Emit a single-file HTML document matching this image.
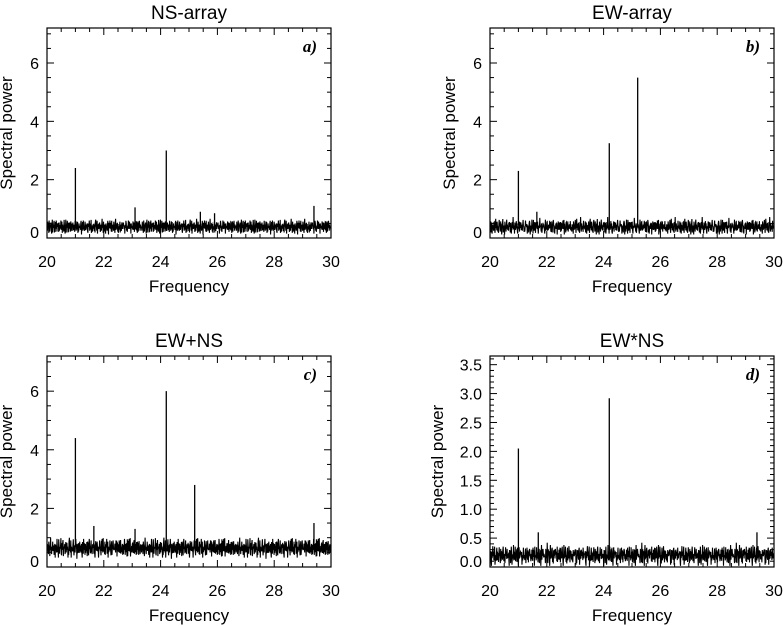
<!DOCTYPE html>
<html><head><meta charset="utf-8"><style>
html,body{margin:0;padding:0;background:#fff;}
svg{display:block;font-family:"Liberation Sans",Arial,sans-serif;}
</style></head><body>
<svg id="fig" width="783" height="626" viewBox="0 0 783 626" xmlns="http://www.w3.org/2000/svg"></svg>
<script>
// Data
const noiseShape = [5,3,7,4,6,2,8,5,3,6,4,7,5,2,6,8,3,5,4,6,7,3,5,2,6,4,8,5,3,7,4,5,6,2,7,3,5,6,4,8,3,5,7,2,6,4,5,3,7,6,4,2,5,8,3,6,4,7,5,3,6,2,5,7,4,6,3,8,5,4,2,6,5,7,3,4,6,5,2,7,4,6,3,5,8,4,6,2,5,3,7,4,6,5,3,6,7,2,5,4,6,3,8,5,4,6,2,7,5,3,4,6,5,7,3,2,6,4,5,8,3,6,4,5,7,2,4,6,3,5,7,4,6,2,5,3,6,8,4,5,3,7,2,6,5,4,3,6,7,5,2,4,6,3,5,8,4,6,2,7,5,3,4,6,5,2,7,4,6,3,5,7,4,2,6,5,3,8,4,6,5,3,7,2,5,4,6,3,7,5,4,2,6,8,3,5,4,6,7,3,5,2,6,4,5,7,3,6,4,2,5,8,3,6,4,7,5,3,6,2,5,4,7,6,3,5,2,6,4,8,5,3,7,4,5,6,2,7,3,5,6,4,8,3,5,7,2,6,4,5,3,7,6,4,2,5,8,3,6,4,7,5,3,6,4,5];
const titles = ["NS-array","EW-array","EW+NS","EW*NS"];
const tags = ["a)","b)","c)","d)"];
const baselines = [0.42,0.42,0.68,0.22];
const noiseAmps = [0.6,0.6,0.8,0.4];
const peaksA_f = [21.0,23.1,24.2,25.4,25.9,29.4];
const peaksA_v = [2.4,1.05,3.0,0.9,0.85,1.1];
const peaksB_f = [21.0,21.65,24.2,25.2];
const peaksB_v = [2.3,0.9,3.25,5.5];
const peaksC_f = [21.0,21.65,23.1,24.2,25.2,29.4];
const peaksC_v = [4.4,1.4,1.3,6.0,2.8,1.5];
const peaksD_f = [21.0,21.7,24.2,29.4];
const peaksD_v = [2.05,0.6,2.92,0.6];
const xTicks = [20,22,24,26,28,30];
const yTicksABC = [0,2,4,6];
const yTicksD = [0.0,0.5,1.0,1.5,2.0,2.5,3.0,3.5];

const NS="http://www.w3.org/2000/svg";
const svg=document.getElementById('fig');
function mk(tag,attrs,parent){const e=document.createElementNS(NS,tag);for(const k in attrs)e.setAttribute(k,attrs[k]);(parent||svg).appendChild(e);return e;}

const panels=[
 {x0:47,x1:331,y0:28,y1:238,ymin:0,ymax:7.2,yt:yTicksABC,minor:0.5,pf:peaksA_f,pv:peaksA_v,dec:0},
 {x0:490,x1:774,y0:28,y1:238,ymin:0,ymax:7.2,yt:yTicksABC,minor:0.5,pf:peaksB_f,pv:peaksB_v,dec:0},
 {x0:47,x1:331,y0:356,y1:567,ymin:0,ymax:7.2,yt:yTicksABC,minor:0.5,pf:peaksC_f,pv:peaksC_v,dec:0},
 {x0:490,x1:774,y0:356,y1:567,ymin:0,ymax:3.65,yt:yTicksD,minor:0.1,pf:peaksD_f,pv:peaksD_v,dec:1}
];
panels.forEach((p,i)=>{
 const g=mk('g',{});
 
 
 const X=f=>p.x0+(f-20)/10*(p.x1-p.x0);
 const Y=v=>p.y1-(v-p.ymin)/(p.ymax-p.ymin)*(p.y1-p.y0);
 let d='';
 const n=noiseShape.length;
 const sh=(i*37)%n;
 const N=800;
 for(let k=0;k<N;k++){
   const f=20+10*k/(N-1);
   const s=0.7*noiseShape[(k+sh)%n]+0.3*noiseShape[(k*7+3+sh)%n];
   let v=p.ymin+baselines[i]+(s-5)/3*noiseAmps[i]*0.5;
   if(v<p.ymin+0.02)v=p.ymin+0.02;
   d+=(k?'L':'M')+X(f).toFixed(1)+' '+Y(v).toFixed(1);
 }
 const line=mk('path',{d:d,fill:'none',stroke:'#000','stroke-width':1.1},g);
 
 
 p.pf.forEach((f,j)=>{
   const l=mk('line',{x1:X(f),x2:X(f),y1:Y(baselines[i]),y2:Y(p.pv[j]),stroke:'#000','stroke-width':1.3},g);
   
   
 });
 const box=mk('rect',{x:p.x0,y:p.y0,width:p.x1-p.x0,height:p.y1-p.y0,fill:'none',stroke:'#000','stroke-width':1.2},g);
 
 
 for(let f=20;f<=30.001;f+=0.5){
   const maj=Math.abs(f/2-Math.round(f/2))<1e-6;const L=maj?7:4;
   mk('line',{x1:X(f),x2:X(f),y1:p.y1,y2:p.y1-L,stroke:'#000'},g);
   mk('line',{x1:X(f),x2:X(f),y1:p.y0,y2:p.y0+L,stroke:'#000'},g);
 }
 xTicks.forEach(t=>{
   const tx=mk('text',{x:X(t),y:p.y1+29,'text-anchor':'middle','font-size':16},g);tx.textContent=t;
   
   
 });
 const majStep=p.dec?0.5:2;
 for(let v=p.ymin;v<=p.ymax+1e-6;v+=p.minor){
   const vv=Math.round(v*100)/100;
   const maj=Math.abs(vv/majStep-Math.round(vv/majStep))<1e-6;const L=maj?7:4;
   mk('line',{x1:p.x0,x2:p.x0+L,y1:Y(vv),y2:Y(vv),stroke:'#000'},g);
   mk('line',{x1:p.x1,x2:p.x1-L,y1:Y(vv),y2:Y(vv),stroke:'#000'},g);
 }
 p.yt.forEach(t=>{
   let yy=Y(t)+6;
   if(yy>p.y1)yy=p.y1; if(yy-12<p.y0)yy=p.y0+12;
   const tx=mk('text',{x:p.x0-8,y:yy,'text-anchor':'end','font-size':16},g);tx.textContent=t.toFixed(p.dec);
   
   
 });
 const cx=(p.x0+p.x1)/2;
 const tt=mk('text',{x:cx,y:p.y0-9,'text-anchor':'middle','font-size':19},g);tt.textContent=titles[i];
 
 
 const xl=mk('text',{x:cx,y:p.y1+54,'text-anchor':'middle','font-size':17},g);xl.textContent='Frequency';
 
 
 const ylx=p.x0-(p.dec?47:35), yly=(p.y0+p.y1)/2;
 const yl=mk('text',{x:ylx,y:yly,'text-anchor':'middle','font-size':17,transform:'rotate(-90 '+ylx+' '+yly+')'},g);yl.textContent='Spectral power';
 
 
 const tg=mk('text',{x:p.x1-14,y:p.y0+24,'text-anchor':'end','font-size':17,'font-style':'italic','font-weight':'bold','font-family':'"Liberation Serif",serif'},g);tg.textContent=tags[i];
 
 
});
</script>
</body></html>
